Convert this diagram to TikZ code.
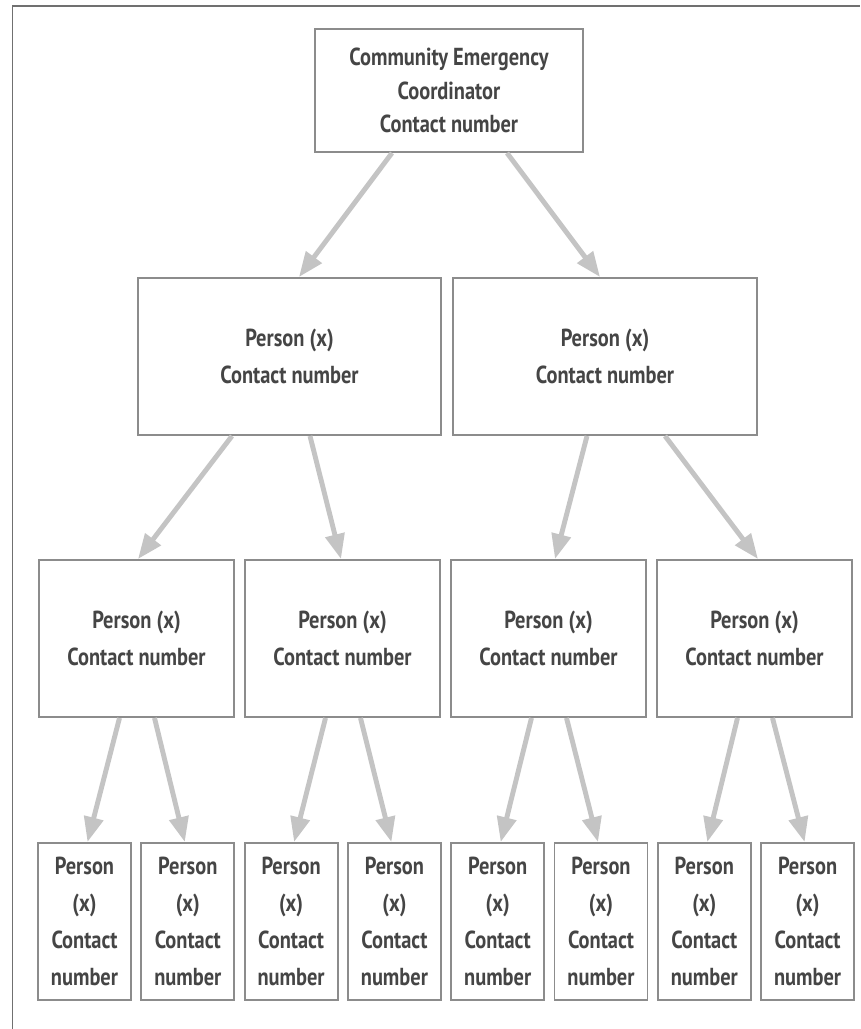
\documentclass[tikz,border=0pt]{standalone}
\usepackage{fontspec}
\setmainfont{PT Sans}[FakeStretch=0.83]
\usetikzlibrary{arrows.meta}

\definecolor{boxgray}{HTML}{8C8C8C}
\definecolor{arrowgray}{HTML}{C4C4C4}
\definecolor{txtgray}{HTML}{454545}

\begin{document}
\begin{tikzpicture}[
  box/.style={draw=boxgray, line width=1.1pt, fill=white, align=center,
    text=txtgray, inner sep=0pt,
    font=\fontsize{14}{21}\selectfont\bfseries},
  arr/.style={draw=arrowgray, line width=2.8pt,
    -{Triangle[length=0.5cm,width=0.38cm]}}
]
\useasboundingbox (0,0) rectangle (17.2,-20.58);
% outer frame
\draw[boxgray!80!black, line width=1.1pt] (0.25,-20.58) |- (17.2,-0.12);

% coordinator
\node[box, minimum width=5.36cm, minimum height=2.46cm,
  font=\fontsize{14}{19}\selectfont\bfseries] (coord) at (8.98,-1.81)
  {Community Emergency\\Coordinator\\Contact number};

% 2nd level
\node[box, minimum width=6.06cm, minimum height=3.14cm] (pa) at (5.79,-7.13)
  {Person (x)\\Contact number};
\node[box, minimum width=6.08cm, minimum height=3.14cm] (pb) at (12.10,-7.13)
  {Person (x)\\Contact number};

% 3rd level
\foreach \i in {1,...,4}
  \node[box, minimum width=3.9cm, minimum height=3.14cm] (pc\i)
    at ({2.73+(\i-1)*4.12},-12.77) {Person (x)\\Contact number};

% 4th level
\foreach \i in {1,...,8}
  \node[box, minimum width=1.86cm, minimum height=3.14cm] (pd\i)
    at ({1.69+(\i-1)*2.066},-18.43) {Person\\(x)\\Contact\\number};

% arrows
\draw[arr] ([xshift=-1.14cm]coord.south) -- ([xshift=0.19cm]pa.north);
\draw[arr] ([xshift=1.16cm]coord.south) -- ([xshift=-0.10cm]pb.north);

\draw[arr] ([xshift=-1.15cm]pa.south) -- ([xshift=0.03cm]pc1.north);
\draw[arr] ([xshift=0.41cm]pa.south) -- ([xshift=-0.03cm]pc2.north);
\draw[arr] ([xshift=-0.36cm]pb.south) -- ([xshift=0.13cm]pc3.north);
\draw[arr] ([xshift=1.20cm]pb.south) -- ([xshift=0.07cm]pc4.north);

\foreach \i/\a/\b in {1/1/2, 2/3/4, 3/5/6, 4/7/8} {
  \draw[arr] ([xshift=-0.34cm]pc\i.south) -- ([xshift=0.06cm]pd\a.north);
  \draw[arr] ([xshift=0.36cm]pc\i.south) -- ([xshift=-0.06cm]pd\b.north);
}
\end{tikzpicture}
\end{document}
